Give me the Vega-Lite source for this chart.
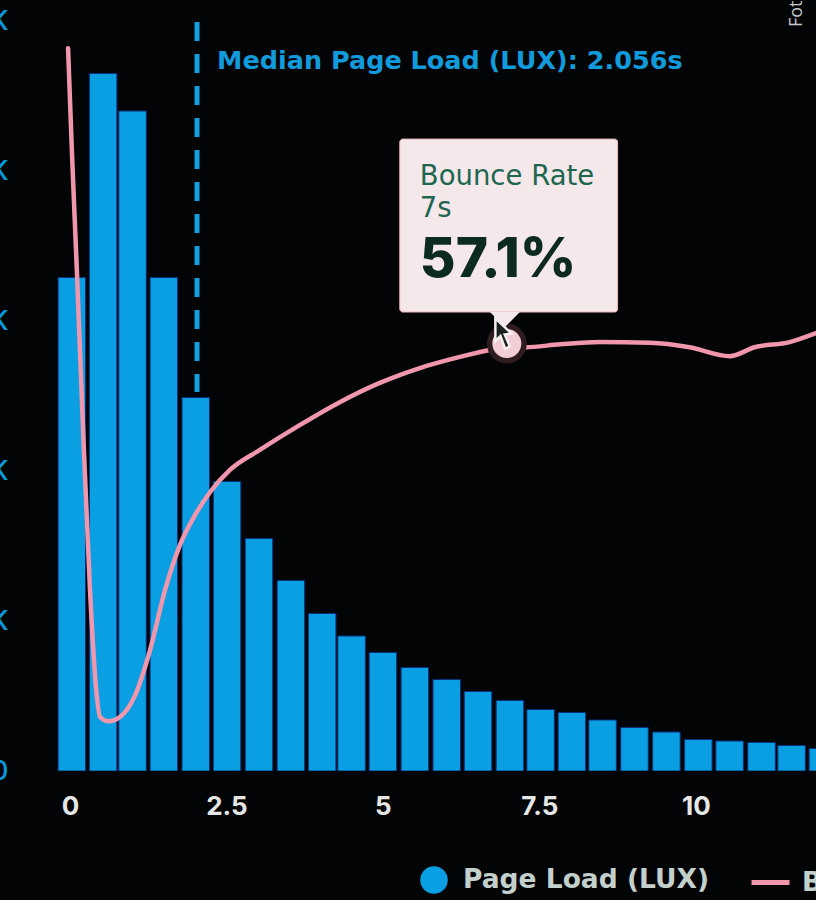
{
"$schema":"https://vega.github.io/schema/vega-lite/v6.json",
"width":808,"height":751,
"autosize":{"type":"none"},
"padding":{"left":8,"top":20,"right":0,"bottom":129},
"background":"#020405",
"config":{"view":{"stroke":null}},
"datasets":{
"bars":[
{"x":0.03,"k":32.9,"series":"Page Load (LUX)"},{"x":0.53,"k":46.5,"series":"Page Load (LUX)"},{"x":1.0,"k":44.0,"series":"Page Load (LUX)"},{"x":1.5,"k":32.9,"series":"Page Load (LUX)"},{"x":2.01,"k":24.9,"series":"Page Load (LUX)"},{"x":2.51,"k":19.3,"series":"Page Load (LUX)"},{"x":3.02,"k":15.5,"series":"Page Load (LUX)"},{"x":3.53,"k":12.7,"series":"Page Load (LUX)"},{"x":4.03,"k":10.5,"series":"Page Load (LUX)"},{"x":4.5,"k":9.0,"series":"Page Load (LUX)"},{"x":5.0,"k":7.9,"series":"Page Load (LUX)"},{"x":5.51,"k":6.9,"series":"Page Load (LUX)"},{"x":6.02,"k":6.1,"series":"Page Load (LUX)"},{"x":6.52,"k":5.3,"series":"Page Load (LUX)"},{"x":7.03,"k":4.7,"series":"Page Load (LUX)"},{"x":7.52,"k":4.1,"series":"Page Load (LUX)"},{"x":8.02,"k":3.9,"series":"Page Load (LUX)"},{"x":8.51,"k":3.4,"series":"Page Load (LUX)"},{"x":9.02,"k":2.9,"series":"Page Load (LUX)"},{"x":9.53,"k":2.6,"series":"Page Load (LUX)"},{"x":10.04,"k":2.1,"series":"Page Load (LUX)"},{"x":10.54,"k":2.0,"series":"Page Load (LUX)"},{"x":11.05,"k":1.9,"series":"Page Load (LUX)"},{"x":11.53,"k":1.7,"series":"Page Load (LUX)"},{"x":12.03,"k":1.5,"series":"Page Load (LUX)"}
],
"line":[
{"x":-0.03,"rate":97.4,"series":"Bounce Rate"},{"x":0.03,"rate":83.7,"series":"Bounce Rate"},{"x":0.11,"rate":67.5,"series":"Bounce Rate"},{"x":0.21,"rate":45.9,"series":"Bounce Rate"},{"x":0.32,"rate":24.4,"series":"Bounce Rate"},{"x":0.42,"rate":10.9,"series":"Bounce Rate"},{"x":0.48,"rate":7.3,"series":"Bounce Rate"},{"x":0.61,"rate":6.7,"series":"Bounce Rate"},{"x":0.8,"rate":7.3,"series":"Bounce Rate"},{"x":1.04,"rate":10.2,"series":"Bounce Rate"},{"x":1.28,"rate":16.3,"series":"Bounce Rate"},{"x":1.52,"rate":24.4,"series":"Bounce Rate"},{"x":1.76,"rate":30.5,"series":"Bounce Rate"},{"x":2.0,"rate":34.5,"series":"Bounce Rate"},{"x":2.24,"rate":37.6,"series":"Bounce Rate"},{"x":2.56,"rate":40.6,"series":"Bounce Rate"},{"x":3.04,"rate":43.3,"series":"Bounce Rate"},{"x":3.67,"rate":46.6,"series":"Bounce Rate"},{"x":4.31,"rate":49.7,"series":"Bounce Rate"},{"x":4.95,"rate":52.3,"series":"Bounce Rate"},{"x":5.59,"rate":54.3,"series":"Bounce Rate"},{"x":6.23,"rate":55.8,"series":"Bounce Rate"},{"x":6.79,"rate":56.9,"series":"Bounce Rate"},{"x":7.03,"rate":57.3,"series":"Bounce Rate"},{"x":7.27,"rate":57.1,"series":"Bounce Rate"},{"x":7.83,"rate":57.5,"series":"Bounce Rate"},{"x":8.47,"rate":57.8,"series":"Bounce Rate"},{"x":9.27,"rate":57.7,"series":"Bounce Rate"},{"x":9.9,"rate":57.1,"series":"Bounce Rate"},{"x":10.54,"rate":55.9,"series":"Bounce Rate"},{"x":10.94,"rate":57.1,"series":"Bounce Rate"},{"x":11.5,"rate":57.8,"series":"Bounce Rate"},{"x":11.92,"rate":59.0,"series":"Bounce Rate"}
]
},
"encoding":{"x":{"field":"x","type":"quantitative","scale":{"domain":[-0.99,11.92],"nice":false,"zero":false,"padding":0},"axis":{"values":[0,2.5,5,7.5,10],"labelExpr":"''+datum.value","title":null,"grid":false,"domain":false,"ticks":false,"labelPadding":22,"labelFontSize":26,"labelFont":"Inter","labelFontWeight":"bold","labelColor":"#e4e7e5","labelBound":false,"labelFlush":false,"labelOverlap":false}}},
"resolve":{"scale":{"y":"independent"}},
"layer":[
{"data":{"name":"bars"},"mark":{"type":"bar","size":27.5,"clip":true,"stroke":"#08307e","strokeWidth":1},
"encoding":{"y":{"field":"k","type":"quantitative","scale":{"domain":[0,50.07],"nice":false},"axis":{"values":[0,10,20,30,40,50],"labelExpr":"datum.value==0?'0':datum.value+'K'","title":null,"grid":false,"domain":false,"ticks":false,"tickSize":0,"labelPadding":0,"labelFontSize":27,"labelFont":"Inter","labelFontWeight":500,"labelColor":"#0a9adb","labelBound":false,"labelFlush":false,"labelOverlap":false}},
"fill":{"field":"series","type":"nominal","scale":{"range":["#0a9fe2"]},"legend":{"orient":"none","legendX":412,"legendY":846,"title":null,"padding":0,"symbolType":"circle","symbolSize":760,"symbolStrokeWidth":0,"labelFontSize":26.5,"labelFont":"DejaVu Sans","labelFontWeight":"bold","labelColor":"#c4d0cb","labelOffset":15,"labelLimit":320}}}},
{"data":{"name":"line"},"mark":{"type":"line","clip":true,"interpolate":"monotone","strokeWidth":4.5,"strokeCap":"round"},
"encoding":{"y":{"field":"rate","type":"quantitative","scale":{"domain":[0,101.2],"nice":false},"axis":null},
"stroke":{"field":"series","type":"nominal","scale":{"range":["#f096ad"]},"legend":{"orient":"none","legendX":741,"legendY":841,"title":null,"padding":0,"symbolType":"stroke","symbolSize":1444,"symbolStrokeWidth":5,"labelFontSize":26.5,"labelFont":"DejaVu Sans","labelFontWeight":"bold","labelColor":"#c4d0cb","labelOffset":10,"labelLimit":320}}}},
{"data":{"values":[{"x":2.03,"y":49.93,"y2":25.27}]},"mark":{"type":"rule","strokeWidth":5,"strokeDash":[19,13],"color":"#12a0de"},
"encoding":{"y":{"field":"y","type":"quantitative","scale":{"domain":[0,50.07],"nice":false},"axis":null},"y2":{"field":"y2"}}},
{"data":{"values":[{"x":2.35,"y":46.8,"t":"Median Page Load (LUX): 2.056s"}]},"mark":{"type":"text","align":"left","baseline":"alphabetic","fontSize":25.5,"font":"DejaVu Sans","fontWeight":"bold","color":"#129bdc"},
"encoding":{"y":{"field":"y","type":"quantitative","scale":{"domain":[0,50.07],"nice":false},"axis":null},"text":{"field":"t"}}},
{"data":{"values":[{"x":6.98,"rate":57.6}]},"mark":{"type":"point","filled":true,"shape":"circle","size":1600,"color":"#2e1c20","opacity":1},
"encoding":{"y":{"field":"rate","type":"quantitative","scale":{"domain":[0,101.2],"nice":false},"axis":null}}},
{"data":{"values":[{"x":6.98,"rate":57.6}]},"mark":{"type":"point","filled":true,"shape":"circle","size":841,"color":"#f3cdd6","opacity":1},
"encoding":{"y":{"field":"rate","type":"quantitative","scale":{"domain":[0,101.2],"nice":false},"axis":null}}},
{"data":{"values":[{"x":5.27,"x2":8.75,"y":42.13,"y2":30.6}]},"mark":{"type":"rect","fill":"#f4e8ea","stroke":"#f0b4bc","strokeWidth":1,"cornerRadius":3},
"encoding":{"x2":{"field":"x2"},"y":{"field":"y","type":"quantitative","scale":{"domain":[0,50.07],"nice":false},"axis":null},"y2":{"field":"y2"}}},
{"data":{"values":[{"x":6.95,"y":30.1}]},"mark":{"type":"point","filled":true,"shape":"M-1,-0.5 L1,-0.5 L0,0.5 Z","size":900,"color":"#f4e8ea","opacity":1},
"encoding":{"y":{"field":"y","type":"quantitative","scale":{"domain":[0,50.07],"nice":false},"axis":null}}},
{"data":{"values":[{"x":5.59,"y":39.07,"t":"Bounce Rate"},{"x":5.59,"y":36.93,"t":"7s"}]},"mark":{"type":"text","align":"left","baseline":"alphabetic","fontSize":27.5,"font":"DejaVu Sans","color":"#1f6650"},
"encoding":{"y":{"field":"y","type":"quantitative","scale":{"domain":[0,50.07],"nice":false},"axis":null},"text":{"field":"t"}}},
{"data":{"values":[{"x":5.59,"y":32.93,"t":"57.1%"}]},"mark":{"type":"text","align":"left","baseline":"alphabetic","fontSize":55,"font":"Inter","fontWeight":800,"color":"#0c2a20"},
"encoding":{"y":{"field":"y","type":"quantitative","scale":{"domain":[0,50.07],"nice":false},"axis":null},"text":{"field":"t"}}},
{"data":{"values":[{"x":6.96,"y":29.05}]},"mark":{"type":"point","filled":true,"shape":"M-0.6,-1 L-0.6,0.35 L-0.3,0.05 L-0.02,0.8 L0.25,0.65 L-0.05,-0.05 L0.35,-0.1 Z","size":1156,"color":"#1c2020","stroke":"#f6f0f0","strokeWidth":2.5,"opacity":1},
"encoding":{"y":{"field":"y","type":"quantitative","scale":{"domain":[0,50.07],"nice":false},"axis":null}}},
{"data":{"values":[{"x":11.69,"y":49.6,"t":"Foto"}]},"mark":{"type":"text","align":"left","baseline":"alphabetic","angle":270,"fontSize":18,"font":"Open Sans","color":"#c4c8c8"},
"encoding":{"y":{"field":"y","type":"quantitative","scale":{"domain":[0,50.07],"nice":false},"axis":null},"text":{"field":"t"}}}
]
}
